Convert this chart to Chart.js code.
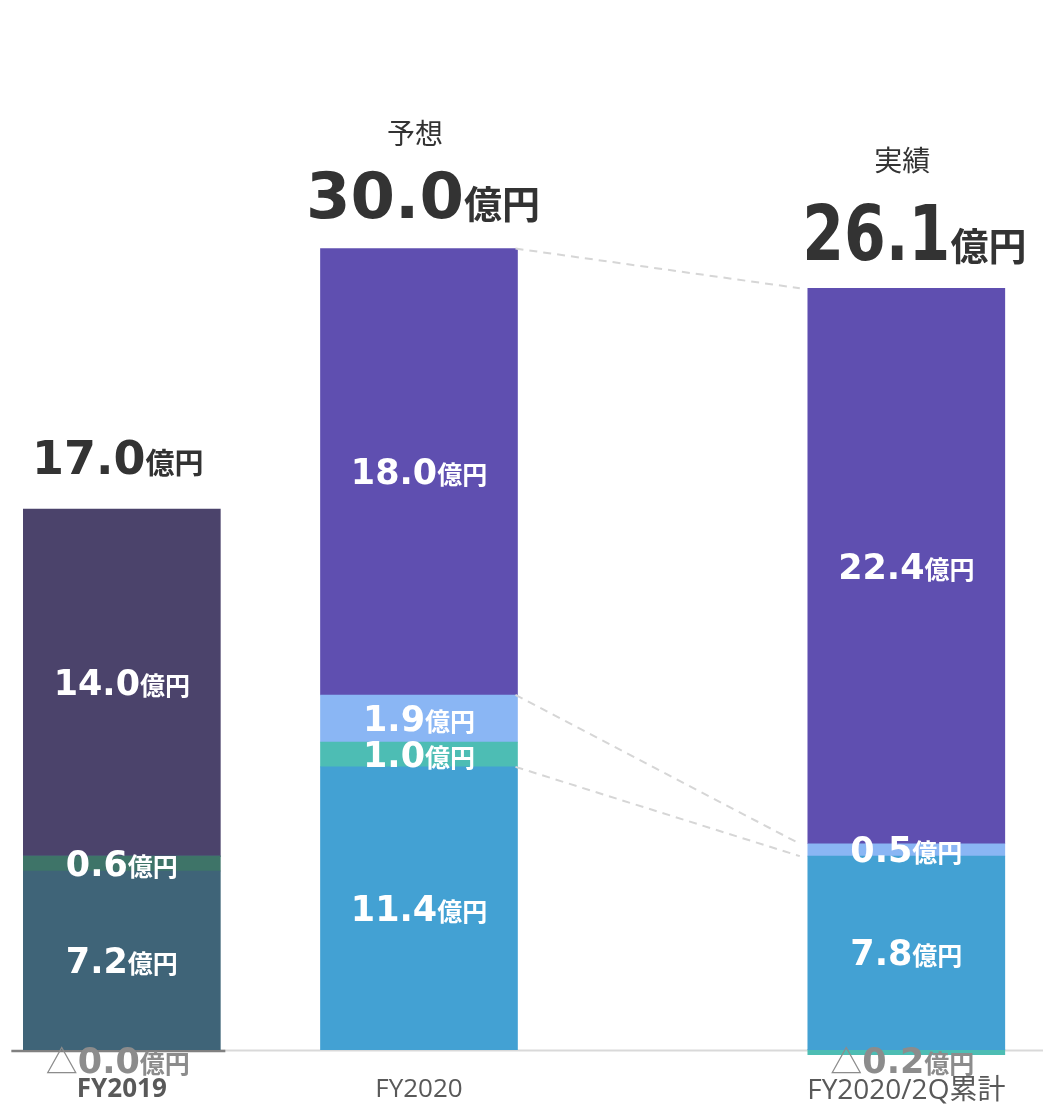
<!DOCTYPE html>
<html lang="ja">
<head>
<meta charset="utf-8">
<title>FY2020 見通しと実績</title>
<script src="https://cdn.jsdelivr.net/npm/chart.js@4.4.1/dist/chart.umd.min.js"></script>
<style>
  html, body { margin: 0; padding: 0; background: #ffffff; }
  #wrap { width: 1043px; height: 1108px; position: relative; }
</style>
</head>
<body>
<div id="wrap"><canvas id="chart"></canvas></div>
<script>
// Periods shown on the x axis
const periods = ['FY2019', 'FY2020', 'FY2020/2Q累計'];
// Caption shown over each headline total
const captions = ['', '予想', '実績'];
// Headline totals (億円)
const totals = [17.0, 30.0, 26.1];

// Stack components (億円), listed bottom to top.
// -0.0 is a negative amount that rounds to zero (shown as △0.0).
const segBlue   = [7.2, 11.4, 7.8];
const segTeal   = [0.6, 1.0, -0.2];
const segSky    = [-0.0, 1.9, 0.5];
const segPurple = [14.0, 18.0, 22.4];

const UNIT = '億円';
const isNeg = v => v < 0 || Object.is(v, -0);
const fmtNum = v => Math.abs(v).toFixed(1);

// ---- styling ------------------------------------------------------------
// colour for each period: FY2019 uses a muted palette
const palette = {
  blue:   ['#3f6478', '#43a1d3', '#43a1d3'],
  teal:   ['#3e7468', '#4dbdb4', '#4dbdb4'],
  sky:    ['#566f90', '#8ab6f4', '#8ab6f4'],
  purple: ['#4b436b', '#5f4fb0', '#5f4fb0']
};
// horizontal slot of each period on the linear x axis
const slotOf = [0, 1, 2.64];

const NUM_FONT = '"DejaVu Sans", "Noto Sans CJK JP", sans-serif';
const JP_FONT = '"Noto Sans CJK JP", "Noto Sans", sans-serif';

function series(values, colours, key) {
  return {
    label: key,
    data: values.map((v, i) => ({ x: slotOf[i], y: v })),
    backgroundColor: colours,
    borderWidth: 0,
    barThickness: 197,
    stack: 'total'
  };
}

const datasets = [
  series(segBlue, palette.blue, 'blue'),
  series(segTeal, palette.teal, 'teal'),
  series(segSky, palette.sky, 'sky'),
  series(segPurple, palette.purple, 'purple')
];

// draw a run of text pieces centred on cx, sharing one baseline
function drawParts(ctx, parts, cx, baseline) {
  const widths = parts.map(p => {
    ctx.font = p.font;
    return ctx.measureText(p.text).width * (p.sx || 1);
  });
  const total = widths.reduce((a, b) => a + b, 0);
  let x = cx - total / 2;
  ctx.save();
  ctx.textAlign = 'left';
  ctx.textBaseline = 'alphabetic';
  parts.forEach((p, i) => {
    ctx.font = p.font;
    ctx.fillStyle = p.color;
    ctx.save();
    ctx.translate(x, baseline);
    ctx.scale(p.sx || 1, 1);
    ctx.fillText(p.text, 0, 0);
    ctx.restore();
    x += widths[i];
  });
  ctx.restore();
}

function barProps(chart, dsIndex, i) {
  return chart.getDatasetMeta(dsIndex).data[i].getProps(['x', 'y', 'base', 'width'], true);
}

// axis baseline: light rule across the plot, darker rule under FY2019
const baselinePlugin = {
  id: 'baselineRule',
  beforeDatasetsDraw(chart) {
    const { ctx, chartArea, scales } = chart;
    const y0 = scales.y.getPixelForValue(0);
    const first = barProps(chart, 0, 0);
    ctx.save();
    ctx.strokeStyle = '#d9d9d9';
    ctx.lineWidth = 2;
    ctx.beginPath();
    ctx.moveTo(first.x + first.width / 2, y0 + 1);
    ctx.lineTo(chartArea.right, y0 + 1);
    ctx.stroke();
    ctx.strokeStyle = '#808080';
    ctx.lineWidth = 2.5;
    ctx.beginPath();
    ctx.moveTo(first.x - first.width / 2 - 12, y0 + 1.5);
    ctx.lineTo(first.x + first.width / 2 + 5, y0 + 1.5);
    ctx.stroke();
    ctx.restore();
  }
};

// dashed guides from the FY2020 forecast to the 2Q actuals
const connectorPlugin = {
  id: 'connectors',
  afterDatasetsDraw(chart) {
    const { ctx } = chart;
    const links = [3, 2, 0];   // purple top, sky top, blue top
    ctx.save();
    ctx.strokeStyle = '#d6d6d6';
    ctx.lineWidth = 2;
    ctx.setLineDash([8, 6]);
    links.forEach(ds => {
      const a = barProps(chart, ds, 1);
      const b = barProps(chart, ds, 2);
      ctx.beginPath();
      ctx.moveTo(a.x + a.width / 2 - 2, a.y);
      ctx.lineTo(b.x - b.width / 2 - 8, b.y);
      ctx.stroke();
    });
    ctx.restore();
  }
};

// value labels inside the segments and headline totals above the bars
const headStyle = [
  { num: 46, unit: 29, sx: 1,    gap: 35, capGap: 0,   dx: -4 },
  { num: 64, unit: 38, sx: 1,    gap: 31, capGap: 105, dx: 4 },
  { num: 76, unit: 38, sx: 0.79, gap: 28, capGap: 117, dx: 8 }
];

const labelPlugin = {
  id: 'valueLabels',
  afterDatasetsDraw(chart) {
    const { ctx, scales } = chart;
    const y0 = scales.y.getPixelForValue(0);

    chart.data.datasets.forEach((ds, d) => {
      ds.data.forEach((pt, i) => {
        const v = pt.y;
        if (v === null || v === undefined) return;
        const el = barProps(chart, d, i);
        if (isNeg(v)) {
          drawParts(ctx, [
            { text: '△', font: `32px ${JP_FONT}`, color: '#8c8c8c' },
            { text: fmtNum(v), font: `bold 35px ${NUM_FONT}`, color: '#8c8c8c' },
            { text: UNIT, font: `bold 25px ${JP_FONT}`, color: '#8c8c8c' }
          ], el.x - 4, y0 + 23);
        } else {
          const cy = (el.y + el.base) / 2;
          drawParts(ctx, [
            { text: fmtNum(v), font: `bold 35px ${NUM_FONT}`, color: '#ffffff' },
            { text: UNIT, font: `bold 25px ${JP_FONT}`, color: '#ffffff' }
          ], el.x, cy + 12.5);
        }
      });
    });

    totals.forEach((t, i) => {
      const top = barProps(chart, chart.data.datasets.length - 1, i);
      const st = headStyle[i];
      drawParts(ctx, [
        { text: t.toFixed(1), font: `bold ${st.num}px ${NUM_FONT}`, color: '#333333', sx: st.sx },
        { text: UNIT, font: `bold ${st.unit}px ${JP_FONT}`, color: '#333333' }
      ], top.x + st.dx, top.y - st.gap);
      if (captions[i]) {
        drawParts(ctx, [
          { text: captions[i], font: `28px ${JP_FONT}`, color: '#333333' }
        ], top.x - 4, top.y - st.capGap);
      }
    });
  }
};

new Chart(document.getElementById('chart'), {
  type: 'bar',
  data: { datasets },
  options: {
    responsive: true,
    maintainAspectRatio: false,
    animation: false,
    layout: { padding: { top: 8, bottom: 0, left: 0, right: 0 } },
    plugins: {
      legend: { display: false },
      tooltip: { enabled: false }
    },
    scales: {
      x: {
        type: 'linear',
        stacked: true,
        offset: false,
        min: -0.41,
        max: 3.10,
        grid: { display: false, drawTicks: false, offset: false },
        border: { display: false },
        afterBuildTicks: scale => {
          scale.ticks = slotOf.map(v => ({ value: v }));
        },
        ticks: {
          autoSkip: false,
          maxRotation: 0,
          padding: 0,
          color: '#595959',
          callback: (value, index) => periods[index],
          font: ctx => ({
            family: '"Open Sans", "Noto Sans CJK JP", sans-serif',
            size: ctx.index === 2 ? 28 : 26,
            weight: ctx.index === 0 ? 'bold' : 'normal'
          })
        }
      },
      y: {
        stacked: true,
        display: false,
        min: -1,
        max: 42
      }
    }
  },
  plugins: [baselinePlugin, connectorPlugin, labelPlugin]
});
</script>
</body>
</html>
